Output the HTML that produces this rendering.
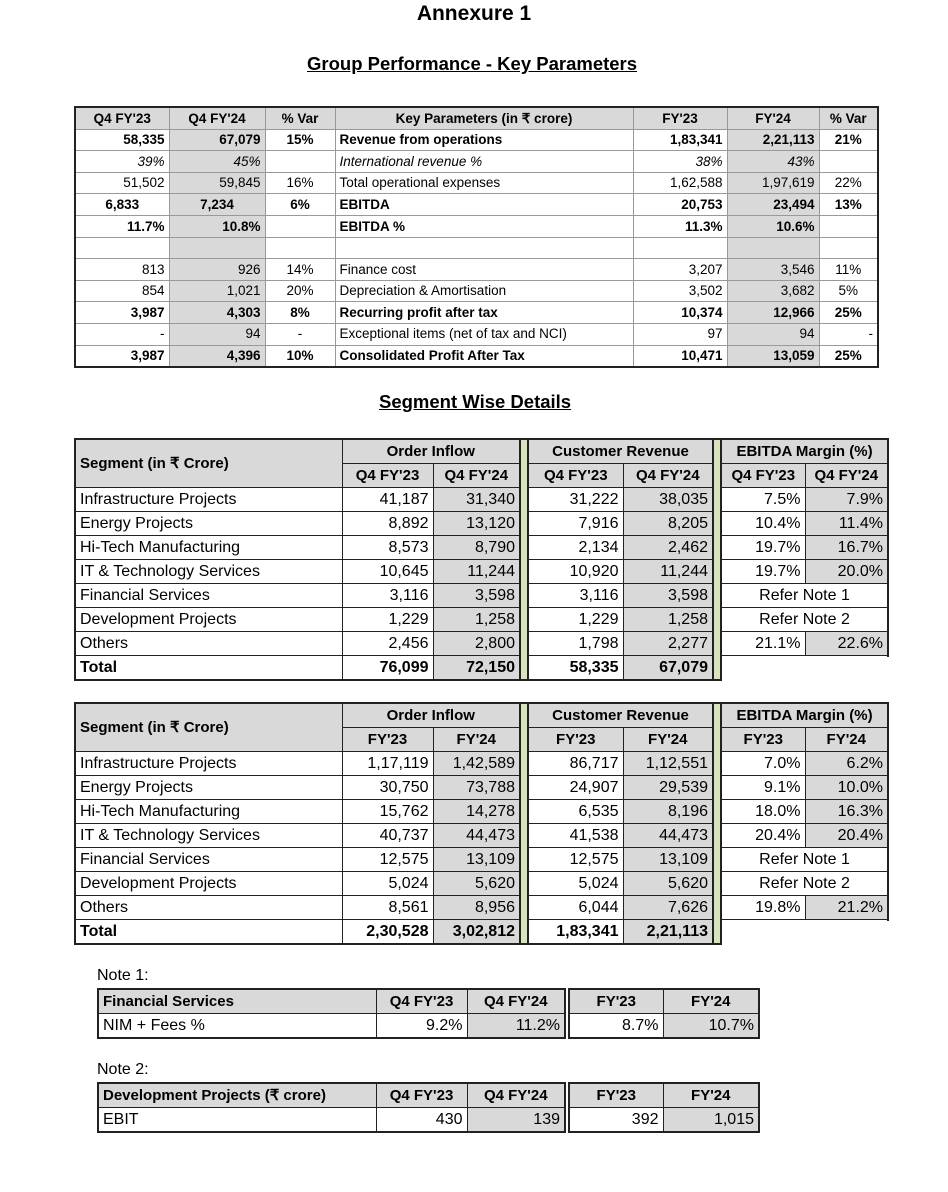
<!DOCTYPE html>
<html><head><meta charset="utf-8"><style>
body{margin:0;width:948px;height:1192px;background:#fff;position:relative;font-family:"Liberation Sans",sans-serif;color:#000;overflow:hidden}
.t{position:absolute;font-weight:bold;white-space:nowrap}
table{position:absolute;border-collapse:collapse;table-layout:fixed}
td{padding:0 4px;white-space:nowrap;overflow:hidden;line-height:1}
.k td{border:1px solid #999;font-size:13.5px;height:20.6px}
.k{border:2px solid #222}
.g{background:#d9d9d9}
.r{text-align:right}.c{text-align:center}.b{font-weight:bold}.i{font-style:italic}
.s td{border:1px solid #222;font-size:16px;height:23px}
.s{border:2px solid #222}
.s td.gap{background:#d8e4bc;padding:0;border-left:2px solid #222;border-right:2px solid #222}
.s td.hb{font-weight:bold;font-size:15px;text-align:center}
.s td.nb{border:none;background:#fff}
.n td{border:1px solid #222;font-size:16px;height:23px}
.n{border:2px solid #222}
.lab{position:absolute;font-size:16px}
.wo{position:absolute;background:#fff}
</style></head><body>
<div class="t" style="left:0;width:948px;text-align:center;top:2px;font-size:21px">Annexure 1</div>
<div class="t" style="left:307px;top:53px;font-size:18.5px;text-decoration:underline">Group Performance - Key Parameters</div>
<div class="t" style="left:379px;top:391px;font-size:18.5px;text-decoration:underline">Segment Wise Details</div>

<table class="k" style="left:74px;top:106px;width:803px">
<colgroup><col style="width:94px"><col style="width:96px"><col style="width:70px"><col style="width:298px"><col style="width:94px"><col style="width:92px"><col style="width:59px"></colgroup>
<tr class="g b"><td class="c">Q4 FY'23</td><td class="c">Q4 FY'24</td><td class="c">% Var</td><td class="c">Key Parameters (in ₹ crore)</td><td class="c">FY'23</td><td class="c">FY'24</td><td class="c">% Var</td></tr>
<tr class="b"><td class="r">58,335</td><td class="r g">67,079</td><td class="c">15%</td><td>Revenue from operations</td><td class="r">1,83,341</td><td class="r g">2,21,113</td><td class="c">21%</td></tr>
<tr class="i"><td class="r">39%</td><td class="r g">45%</td><td></td><td>International revenue %</td><td class="r">38%</td><td class="r g">43%</td><td></td></tr>
<tr><td class="r">51,502</td><td class="r g">59,845</td><td class="c">16%</td><td>Total operational expenses</td><td class="r">1,62,588</td><td class="r g">1,97,619</td><td class="c">22%</td></tr>
<tr class="b"><td class="c">6,833</td><td class="c g">7,234</td><td class="c">6%</td><td>EBITDA</td><td class="r">20,753</td><td class="r g">23,494</td><td class="c">13%</td></tr>
<tr class="b"><td class="r">11.7%</td><td class="r g">10.8%</td><td></td><td>EBITDA %</td><td class="r">11.3%</td><td class="r g">10.6%</td><td></td></tr>
<tr><td></td><td class="g"></td><td></td><td></td><td></td><td class="g"></td><td></td></tr>
<tr><td class="r">813</td><td class="r g">926</td><td class="c">14%</td><td>Finance cost</td><td class="r">3,207</td><td class="r g">3,546</td><td class="c">11%</td></tr>
<tr><td class="r">854</td><td class="r g">1,021</td><td class="c">20%</td><td>Depreciation &amp; Amortisation</td><td class="r">3,502</td><td class="r g">3,682</td><td class="c">5%</td></tr>
<tr class="b"><td class="r">3,987</td><td class="r g">4,303</td><td class="c">8%</td><td>Recurring profit after tax</td><td class="r">10,374</td><td class="r g">12,966</td><td class="c">25%</td></tr>
<tr><td class="r">-</td><td class="r g">94</td><td class="c">-</td><td>Exceptional items (net of tax and NCI)</td><td class="r">97</td><td class="r g">94</td><td class="r">-</td></tr>
<tr class="b"><td class="r">3,987</td><td class="r g">4,396</td><td class="c">10%</td><td>Consolidated Profit After Tax</td><td class="r">10,471</td><td class="r g">13,059</td><td class="c">25%</td></tr>
</table>

<table class="s" style="left:74px;top:438px;width:813px">
<colgroup><col style="width:267px"><col style="width:91px"><col style="width:87px"><col style="width:8px"><col style="width:95px"><col style="width:90px"><col style="width:8px"><col style="width:84px"><col style="width:83px"></colgroup>
<tr><td rowspan="2" class="g b" style="font-size:15px">Segment (in ₹ Crore)</td><td colspan="2" class="g hb">Order Inflow</td><td rowspan="10" class="gap"></td><td colspan="2" class="g hb">Customer Revenue</td><td rowspan="10" class="gap"></td><td colspan="2" class="g hb">EBITDA Margin (%)</td></tr>
<tr><td class="g hb">Q4 FY'23</td><td class="g hb">Q4 FY'24</td><td class="g hb">Q4 FY'23</td><td class="g hb">Q4 FY'24</td><td class="g hb">Q4 FY'23</td><td class="g hb">Q4 FY'24</td></tr>
<tr><td>Infrastructure Projects</td><td class="r">41,187</td><td class="r g">31,340</td><td class="r">31,222</td><td class="r g">38,035</td><td class="r">7.5%</td><td class="r g">7.9%</td></tr>
<tr><td>Energy Projects</td><td class="r">8,892</td><td class="r g">13,120</td><td class="r">7,916</td><td class="r g">8,205</td><td class="r">10.4%</td><td class="r g">11.4%</td></tr>
<tr><td>Hi-Tech Manufacturing</td><td class="r">8,573</td><td class="r g">8,790</td><td class="r">2,134</td><td class="r g">2,462</td><td class="r">19.7%</td><td class="r g">16.7%</td></tr>
<tr><td>IT &amp; Technology Services</td><td class="r">10,645</td><td class="r g">11,244</td><td class="r">10,920</td><td class="r g">11,244</td><td class="r">19.7%</td><td class="r g">20.0%</td></tr>
<tr><td>Financial Services</td><td class="r">3,116</td><td class="r g">3,598</td><td class="r">3,116</td><td class="r g">3,598</td><td colspan="2" class="c">Refer Note 1</td></tr>
<tr><td>Development Projects</td><td class="r">1,229</td><td class="r g">1,258</td><td class="r">1,229</td><td class="r g">1,258</td><td colspan="2" class="c">Refer Note 2</td></tr>
<tr><td>Others</td><td class="r">2,456</td><td class="r g">2,800</td><td class="r">1,798</td><td class="r g">2,277</td><td class="r">21.1%</td><td class="r g">22.6%</td></tr>
<tr class="b"><td>Total</td><td class="r">76,099</td><td class="r g">72,150</td><td class="r">58,335</td><td class="r g">67,079</td><td class="nb"></td><td class="nb"></td></tr>
</table>
<div class="wo" style="left:722px;top:657px;width:170px;height:28px"></div>

<table class="s" style="left:74px;top:702px;width:813px">
<colgroup><col style="width:267px"><col style="width:91px"><col style="width:87px"><col style="width:8px"><col style="width:95px"><col style="width:90px"><col style="width:8px"><col style="width:84px"><col style="width:83px"></colgroup>
<tr><td rowspan="2" class="g b" style="font-size:15px">Segment (in ₹ Crore)</td><td colspan="2" class="g hb">Order Inflow</td><td rowspan="10" class="gap"></td><td colspan="2" class="g hb">Customer Revenue</td><td rowspan="10" class="gap"></td><td colspan="2" class="g hb">EBITDA Margin (%)</td></tr>
<tr><td class="g hb">FY'23</td><td class="g hb">FY'24</td><td class="g hb">FY'23</td><td class="g hb">FY'24</td><td class="g hb">FY'23</td><td class="g hb">FY'24</td></tr>
<tr><td>Infrastructure Projects</td><td class="r">1,17,119</td><td class="r g">1,42,589</td><td class="r">86,717</td><td class="r g">1,12,551</td><td class="r">7.0%</td><td class="r g">6.2%</td></tr>
<tr><td>Energy Projects</td><td class="r">30,750</td><td class="r g">73,788</td><td class="r">24,907</td><td class="r g">29,539</td><td class="r">9.1%</td><td class="r g">10.0%</td></tr>
<tr><td>Hi-Tech Manufacturing</td><td class="r">15,762</td><td class="r g">14,278</td><td class="r">6,535</td><td class="r g">8,196</td><td class="r">18.0%</td><td class="r g">16.3%</td></tr>
<tr><td>IT &amp; Technology Services</td><td class="r">40,737</td><td class="r g">44,473</td><td class="r">41,538</td><td class="r g">44,473</td><td class="r">20.4%</td><td class="r g">20.4%</td></tr>
<tr><td>Financial Services</td><td class="r">12,575</td><td class="r g">13,109</td><td class="r">12,575</td><td class="r g">13,109</td><td colspan="2" class="c">Refer Note 1</td></tr>
<tr><td>Development Projects</td><td class="r">5,024</td><td class="r g">5,620</td><td class="r">5,024</td><td class="r g">5,620</td><td colspan="2" class="c">Refer Note 2</td></tr>
<tr><td>Others</td><td class="r">8,561</td><td class="r g">8,956</td><td class="r">6,044</td><td class="r g">7,626</td><td class="r">19.8%</td><td class="r g">21.2%</td></tr>
<tr class="b"><td>Total</td><td class="r">2,30,528</td><td class="r g">3,02,812</td><td class="r">1,83,341</td><td class="r g">2,21,113</td><td class="nb"></td><td class="nb"></td></tr>
</table>
<div class="wo" style="left:722px;top:921px;width:170px;height:28px"></div>

<div class="lab" style="left:97px;top:967px">Note 1:</div>
<table class="n" style="left:97px;top:988px;width:467px">
<colgroup><col style="width:278px"><col style="width:91px"><col style="width:98px"></colgroup>
<tr class="g b"><td style="font-size:15px">Financial Services</td><td class="c" style="font-size:15px">Q4 FY'23</td><td class="c" style="font-size:15px">Q4 FY'24</td></tr>
<tr><td>NIM + Fees %</td><td class="r">9.2%</td><td class="r g">11.2%</td></tr>
</table>
<table class="n" style="left:568px;top:988px;width:190px">
<colgroup><col style="width:94px"><col style="width:96px"></colgroup>
<tr class="g b"><td class="c" style="font-size:15px">FY'23</td><td class="c" style="font-size:15px">FY'24</td></tr>
<tr><td class="r">8.7%</td><td class="r g">10.7%</td></tr>
</table>

<div class="lab" style="left:97px;top:1061px">Note 2:</div>
<table class="n" style="left:97px;top:1082px;width:467px">
<colgroup><col style="width:278px"><col style="width:91px"><col style="width:98px"></colgroup>
<tr class="g b"><td style="font-size:15px">Development Projects (₹ crore)</td><td class="c" style="font-size:15px">Q4 FY'23</td><td class="c" style="font-size:15px">Q4 FY'24</td></tr>
<tr><td>EBIT</td><td class="r">430</td><td class="r g">139</td></tr>
</table>
<table class="n" style="left:568px;top:1082px;width:190px">
<colgroup><col style="width:94px"><col style="width:96px"></colgroup>
<tr class="g b"><td class="c" style="font-size:15px">FY'23</td><td class="c" style="font-size:15px">FY'24</td></tr>
<tr><td class="r">392</td><td class="r g">1,015</td></tr>
</table>
</body></html>
